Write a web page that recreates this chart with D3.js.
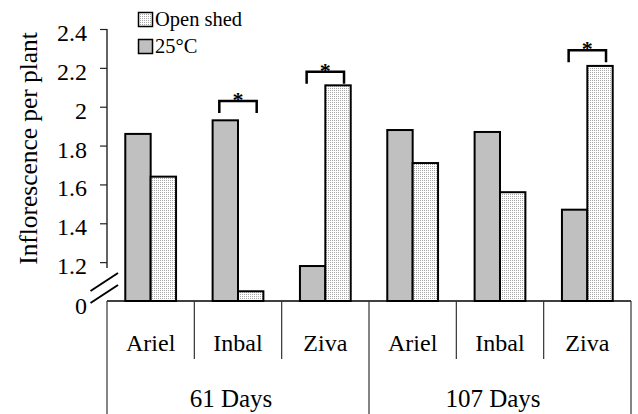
<!DOCTYPE html>
<html>
<head>
<meta charset="utf-8">
<script src="https://cdn.jsdelivr.net/npm/d3@7/dist/d3.min.js"></script>
<style>
  html, body { margin: 0; padding: 0; background: #fff; }
  svg { display: block; }
  svg text { font-family: "Liberation Serif", "Times New Roman", serif; }
</style>
</head>
<body>
<svg id="chart" width="638" height="414"></svg>
<script>
// ---- data ----
const groups = ["61 Days", "107 Days"];
const cultivars = ["Ariel", "Inbal", "Ziva"];
const seriesNames = ["25°C", "Open shed"];
const values25C = [1.86, 1.93, 1.18, 1.88, 1.87, 1.47];
const valuesOpenShed = [1.64, 1.05, 2.11, 1.71, 1.56, 2.21];
const yTickValues = [1.0, 1.2, 1.4, 1.6, 1.8, 2.0, 2.2, 2.4];
const yTickLabels = ["0", "1.2", "1.4", "1.6", "1.8", "2", "2.2", "2.4"];
const sigBars = [1, 2, 5];          // index of bar pair marked significant
const sigLevels = [2.03, 2.18, 2.29]; // bracket heights (axis units)
const yTitle = "Inflorescence per plant";

const SERIF = "'Liberation Serif', 'Times New Roman', Times, serif";

// ---- layout ----
const svg = d3.select("#chart");
const mLeft = 107, mRight = 631, mTop = 29, mBase = 301;

const keys = [];
groups.forEach(g => cultivars.forEach(c => keys.push(g + "|" + c)));

const x0 = d3.scaleBand().domain(keys).range([mLeft, mRight]).padding(0);
const x1 = d3.scaleBand().domain(seriesNames).range([0, x0.bandwidth()]).paddingInner(0).paddingOuter(0.72);
const y = d3.scaleLinear().domain([1.0, 2.4]).range([mBase, mTop]);

// pattern for open shed
const defs = svg.append("defs");
const pat = defs.append("pattern").attr("id", "dots").attr("patternUnits", "userSpaceOnUse")
  .attr("width", 2).attr("height", 2);
pat.append("rect").attr("width", 2).attr("height", 2).attr("fill", "#ffffff");
pat.append("rect").attr("width", 1).attr("height", 1).attr("fill", "#a8a8a8");

const fills = { "25°C": "#c0c0c0", "Open shed": "url(#dots)" };

// y axis ticks (no domain)
const yAxis = d3.axisLeft(y).tickValues(yTickValues.slice(1))
  .tickFormat((d) => yTickLabels[yTickValues.indexOf(d)])
  .tickSize(7).tickPadding(13);
const gy = svg.append("g").attr("transform", `translate(${mLeft},0)`).call(yAxis)
  .attr("font-family", SERIF).attr("font-size", 24);
gy.select(".domain").remove();
gy.selectAll(".tick line").attr("stroke", "#222").attr("stroke-width", 1.2);
gy.selectAll(".tick text").attr("font-size", 24).attr("font-family", SERIF)
  .attr("fill", "#000").attr("dy", "0.48em");

// zero label
svg.append("text").attr("x", mLeft - 20).attr("y", y(1.0)).attr("dy", "0.55em")
  .attr("font-family", SERIF)
  .attr("text-anchor", "end").attr("font-size", 24).text(yTickLabels[0]);

// y axis line (broken)
svg.append("line").attr("x1", mLeft).attr("x2", mLeft).attr("y1", y(2.4)).attr("y2", y(1.17))
  .attr("stroke", "#222").attr("stroke-width", 1.4);

// break marks
[0, 12].forEach(off => {
  svg.append("line").attr("x1", mLeft - 16.5).attr("y1", y(1.0) - 10 + off)
    .attr("x2", mLeft + 11).attr("y2", y(1.0) - 28 + off)
    .attr("stroke", "#000").attr("stroke-width", 2);
});

// bars
const data = [];
keys.forEach((k, i) => {
  data.push({ key: k, s: "25°C", v: values25C[i] });
  data.push({ key: k, s: "Open shed", v: valuesOpenShed[i] });
});
svg.append("g").selectAll("rect").data(data).join("rect")
  .attr("x", d => x0(d.key) + x1(d.s))
  .attr("width", x1.bandwidth())
  .attr("y", d => y(d.v))
  .attr("height", d => mBase - y(d.v))
  .attr("fill", d => fills[d.s])
  .attr("stroke", "#000").attr("stroke-width", 2);

// x axis line
svg.append("line").attr("x1", mLeft).attr("x2", mRight).attr("y1", mBase).attr("y2", mBase)
  .attr("stroke", "#000").attr("stroke-width", 1.5);

// dividers
const boundaries = keys.map(k => x0(k)).concat([mRight]);
boundaries.forEach((bx, i) => {
  const major = (i % cultivars.length === 0);
  svg.append("line").attr("x1", bx).attr("x2", bx).attr("y1", mBase).attr("y2", major ? 414 : 359)
    .attr("stroke", "#333").attr("stroke-width", 1.2);
});

// cultivar labels
svg.append("g").selectAll("text").data(keys).join("text")
  .attr("x", k => x0(k) + x0.bandwidth() / 2)
  .attr("y", 351).attr("text-anchor", "middle").attr("font-size", 24)
  .attr("font-family", SERIF)
  .text(k => k.split("|")[1]);

// group labels
svg.append("g").selectAll("text").data(groups).join("text")
  .attr("x", (g, i) => {
    const a = x0(g + "|" + cultivars[0]);
    const b = x0(g + "|" + cultivars[cultivars.length - 1]) + x0.bandwidth();
    return (a + b) / 2 - 7;
  })
  .attr("y", 407).attr("text-anchor", "middle").attr("font-size", 25)
  .attr("font-family", SERIF)
  .text(g => g);

// significance brackets
sigBars.forEach((idx, j) => {
  const k = keys[idx];
  const xa = x0(k) + x1("25°C") + x1.bandwidth() / 2 - 6;
  const xb = x0(k) + x1("Open shed") + x1.bandwidth() / 2 + 6;
  const yy = y(sigLevels[j]);
  svg.append("path")
    .attr("d", `M${xa},${yy + 12}V${yy}H${xb}V${yy + 12}`)
    .attr("fill", "none").attr("stroke", "#000").attr("stroke-width", 2.5);
  svg.append("text").attr("x", (xa + xb) / 2).attr("y", yy + 6)
    .attr("text-anchor", "middle").attr("font-family", "'Liberation Sans', Arial, sans-serif")
    .attr("font-weight", "bold").attr("font-size", 22).text("*");
});

// y title
svg.append("text").attr("transform", `translate(37,148.5) rotate(-90)`)
  .attr("font-family", SERIF)
  .attr("text-anchor", "middle").attr("font-size", 25.4).text(yTitle);

// legend
const legendItems = ["Open shed", "25°C"];
const lg = svg.append("g");
legendItems.forEach((name, i) => {
  const ly = 12.5 + i * 27;
  lg.append("rect").attr("x", 138.5).attr("y", ly).attr("width", 14).attr("height", 14)
    .attr("fill", fills[name]).attr("stroke", "#000").attr("stroke-width", 1.5);
  lg.append("text").attr("x", 155).attr("y", ly + 13).attr("font-size", 20.5)
    .attr("font-family", SERIF).text(name);
});
</script>
</body>
</html>
